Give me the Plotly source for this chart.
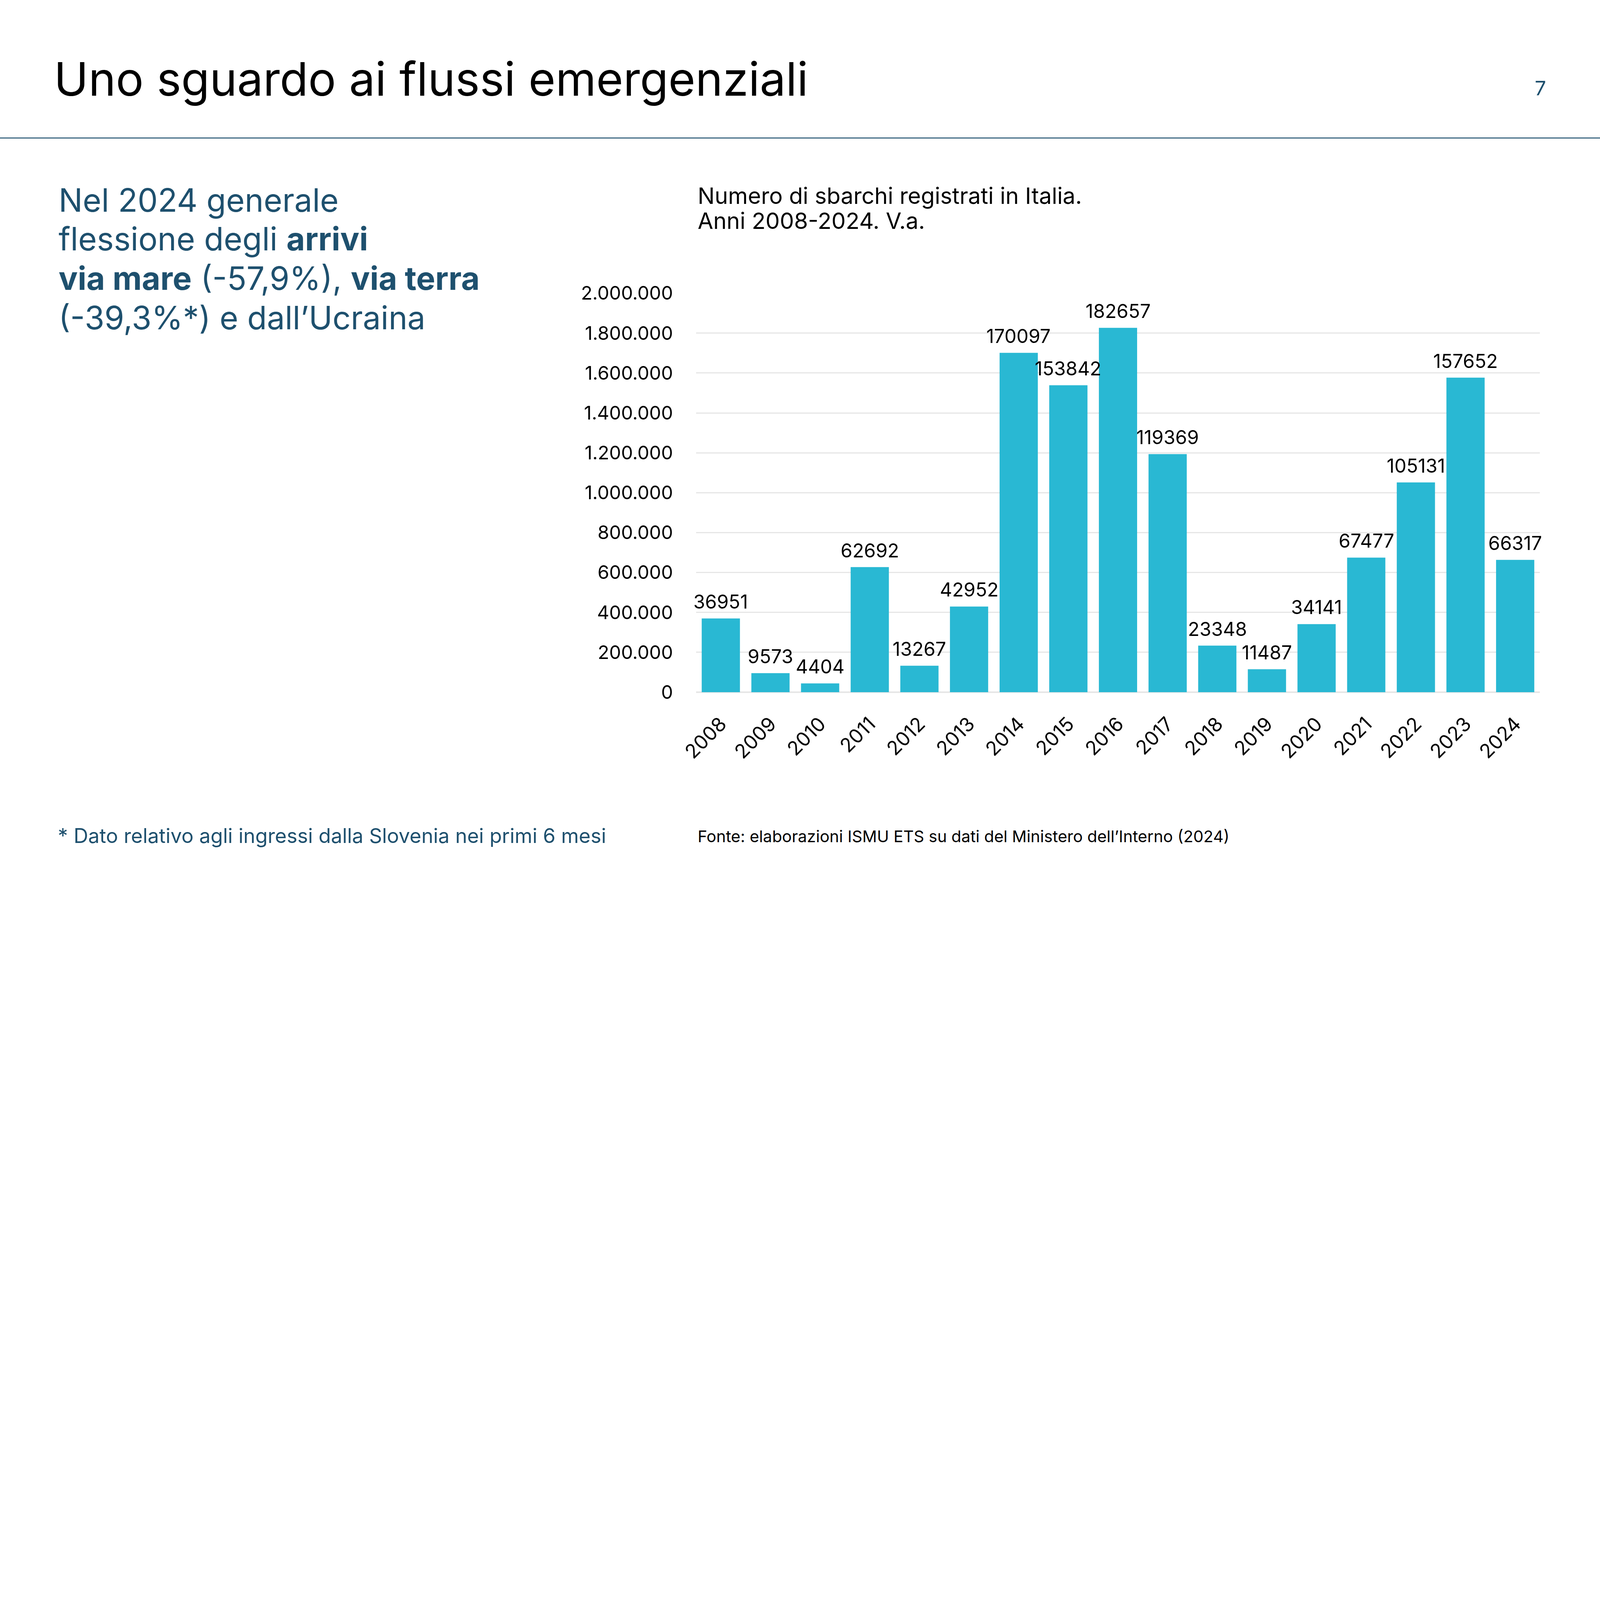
import plotly.graph_objects as go

# dati
anni = [str(a) for a in range(2008, 2025)]
sbarchi = [36951, 9573, 4404, 62692, 13267, 42952, 170097, 153842, 182657,
           119369, 23348, 11487, 34141, 67477, 105131, 157652, 66317]
altezze = [369510, 95730, 44040, 626920, 132670, 429520, 1700970, 1538420, 1826570,
           1193690, 233480, 114870, 341410, 674770, 1051310, 1576520, 663170]
y_ticks = [0, 200000, 400000, 600000, 800000, 1000000, 1200000, 1400000,
           1600000, 1800000, 2000000]

# misure prese sull'immagine 8000x4500, la figura e' disegnata in scala S
RW, RH = 8000, 4500
S = 4096 / RW
BLU = '#1e506e'
CIANO = '#29b8d3'
FONT = 'Inter'


def px(x):
    return x / RW


def py(y):
    return 1 - y / RH


def f(v):
    return v * S


fig = go.Figure()
fig.add_trace(go.Bar(
    x=anni, y=altezze,
    marker=dict(color=CIANO, line=dict(width=0)),
    hoverinfo='skip',
))

# etichette sopra le barre (x = indice della categoria)
for i, (h, v) in enumerate(zip(altezze, sbarchi)):
    fig.add_annotation(x=i, y=h, xref='x', yref='y', text=str(v),
                       showarrow=False, xanchor='center', yanchor='bottom',
                       yshift=f(22),
                       font=dict(family=FONT, size=f(95), color='black'))

fig.update_layout(
    width=round(RW * S), height=round(RH * S),
    autosize=False,
    margin=dict(l=0, r=0, t=0, b=0, pad=0, autoexpand=False),
    paper_bgcolor='white', plot_bgcolor='white',
    separators=',.',
    showlegend=False,
    bargap=0.23,
    font=dict(family=FONT, color='black'),
    xaxis=dict(
        type='category',
        range=[-0.5, len(anni) - 0.5],
        domain=[px(3480), px(7700)],
        tickangle=-45,
        tickfont=dict(family=FONT, size=f(98), color='black'),
        showgrid=False, showline=False, ticks='',
        ticklabelstandoff=round(f(80)),
        automargin=False,
    ),
    yaxis=dict(
        domain=[py(3461), py(1466)],
        range=[0, 2000000],
        tickvals=y_ticks,
        tickformat=',d',
        tickfont=dict(family=FONT, size=f(94), color='black'),
        showgrid=True, gridcolor='#e6e6e6', gridwidth=f(6),
        zeroline=True, zerolinecolor='#e6e6e6', zerolinewidth=f(8),
        showline=False, ticks='',
        ticklabelstandoff=round(f(114)),
        automargin=False,
    ),
)

# linea sotto il titolo
fig.add_shape(type='line', xref='paper', yref='paper',
              x0=0, x1=1, y0=py(690), y1=py(690),
              line=dict(color=BLU, width=f(5)))


def testo(t, x, y, size, color='black', xanchor='left'):
    fig.add_annotation(text=t, xref='paper', yref='paper', x=px(x), y=py(y),
                       xanchor=xanchor, yanchor='middle', showarrow=False,
                       font=dict(family=FONT, size=f(size), color=color))


testo('Uno sguardo ai flussi emergenziali', 265, 394, 232)
testo('7', 7735, 439, 100, BLU, 'right')

# blocco di testo a sinistra
testo('Nel 2024 generale', 290, 1000, 160, BLU)
testo('flessione degli <b>arrivi</b>', 290, 1195, 160, BLU)
testo('<b>via mare</b> (-57,9%), <b>via terra</b>', 290, 1392, 160, BLU)
testo('(-39,3%*) e dall’Ucraina', 290, 1588, 160, BLU)

# titolo del grafico
testo('Numero di sbarchi registrati in Italia.', 3485, 978, 113)
testo('Anni 2008-2024. V.a.', 3485, 1104, 113)

# note
testo('* Dato relativo agli ingressi dalla Slovenia nei primi 6 mesi', 285, 4178, 101, BLU)
testo('Fonte: elaborazioni ISMU ETS su dati del Ministero dell’Interno (2024)', 3485, 4182, 81)

js = "document.body.style.margin = '0';"
fig.write_html('out.html', post_script=js, config={'displayModeBar': False})
